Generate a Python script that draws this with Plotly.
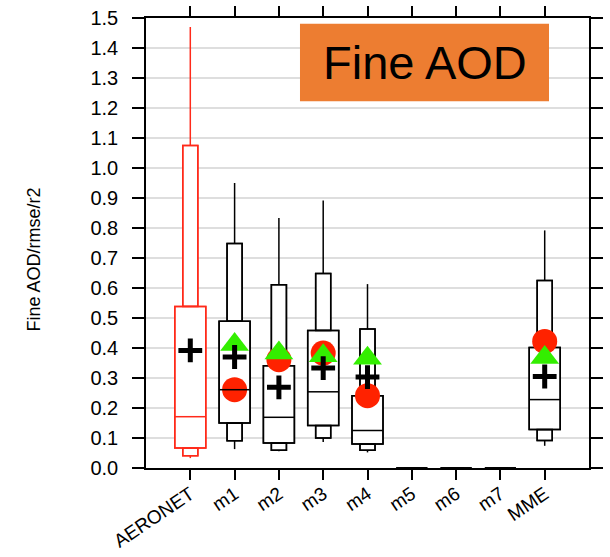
import plotly.graph_objects as go

# ---------------- data ----------------
categories = ["AERONET", "m1", "m2", "m3", "m4", "m5", "m6", "m7", "MME"]
p_max  = [1.470, 0.950, 0.833, 0.892, 0.613, 0.0, 0.0, 0.0, 0.792]
p90    = [1.075, 0.748, 0.611, 0.648, 0.463, 0.0, 0.0, 0.0, 0.625]
p75    = [0.538, 0.489, 0.341, 0.458, 0.241, 0.0, 0.0, 0.0, 0.402]
median = [0.171, 0.261, 0.169, 0.254, 0.125, 0.0, 0.0, 0.0, 0.228]
p25    = [0.067, 0.150, 0.083, 0.142, 0.080, 0.0, 0.0, 0.0, 0.128]
p10    = [0.041, 0.091, 0.059, 0.100, 0.059, 0.0, 0.0, 0.0, 0.092]
p_min  = [0.033, 0.063, 0.056, 0.087, 0.052, 0.0, 0.0, 0.0, 0.074]
mean_v = [0.392, 0.370, 0.269, 0.333, 0.303, None, None, None, 0.305]
rmse_v = [None, 0.261, 0.361, 0.383, 0.241, None, None, None, 0.422]
r2_v   = [None, 0.412, 0.383, 0.374, 0.366, None, None, None, 0.368]
box_colors = ["#ff2a1a", "black", "black", "black", "black", "black", "black", "black", "black"]
y_ticks = [round(0.1 * k, 1) for k in range(16)]

xs = list(range(len(categories)))
WIDE, NARROW = 0.70, 0.34
LW = 1.5

fig = go.Figure()

def box_bars(fill):
    traces = []
    for lo, hi, w in ((p75, p90, NARROW), (p10, p25, NARROW), (p25, p75, WIDE)):
        traces.append(go.Bar(
            x=xs, base=lo, y=[h - l for l, h in zip(lo, hi)], width=w,
            marker=dict(color=fill, line=dict(color=box_colors, width=LW)),
            hoverinfo="skip"))
    return traces

# white-filled boxes (hide grid)
for t in box_bars("white"):
    fig.add_trace(t)

# markers: rmse (red circle), r2 (green triangle)
fig.add_trace(go.Scatter(x=xs, y=rmse_v, mode="markers",
                         marker=dict(symbol="circle", size=25, color="#ff2200", line=dict(width=0)),
                         hoverinfo="skip"))
fig.add_trace(go.Scatter(x=xs, y=r2_v, mode="markers",
                         marker=dict(symbol="triangle-up", size=25, color="#33ee00", line=dict(width=0)),
                         hoverinfo="skip"))

# outlines on top of markers
for t in box_bars("rgba(0,0,0,0)"):
    fig.add_trace(t)

# whiskers and medians
for i, c in enumerate(categories):
    fig.add_trace(go.Scatter(
        x=[i, i, None, i, i], y=[p90[i], p_max[i], None, p_min[i], p10[i]],
        mode="lines", line=dict(color=box_colors[i], width=LW), hoverinfo="skip"))
    fig.add_trace(go.Scatter(
        x=[i - WIDE / 2, i + WIDE / 2], y=[median[i], median[i]],
        mode="lines", line=dict(color=box_colors[i], width=LW), hoverinfo="skip"))

# mean crosses
fig.add_trace(go.Scatter(x=xs, y=mean_v, mode="markers",
                         marker=dict(symbol="cross-thin", size=17, color="black",
                                     line=dict(width=5, color="black")),
                         hoverinfo="skip"))

fig.update_layout(
    width=610, height=557,
    margin=dict(l=146, r=21, t=18, b=89, autoexpand=False),
    plot_bgcolor="white", paper_bgcolor="white",
    showlegend=False, barmode="overlay",
    font=dict(family="Liberation Sans, Arial, sans-serif", color="black"),
)
fig.update_xaxes(
    range=[-1, 9], tickmode="array", tickvals=xs, ticktext=categories,
    ticks="outside", ticklen=10, tickwidth=LW, tickcolor="black",
    showline=True, linecolor="black", linewidth=LW, mirror="ticks",
    showgrid=False, zeroline=False, tickangle=-34, tickfont=dict(size=19),
    automargin=False, ticklabelstandoff=-4,
)
fig.update_yaxes(
    range=[0, 1.5], tickmode="array", tickvals=y_ticks,
    ticktext=[f"{v:.1f}" for v in y_ticks],
    ticks="outside", ticklen=12, tickwidth=LW, tickcolor="black",
    showline=True, linecolor="black", linewidth=LW, mirror="ticks",
    showgrid=True, gridcolor="#dedede", gridwidth=1.5, zeroline=False,
    tickfont=dict(size=20), automargin=False, ticklabelstandoff=10,
)

# y-axis title
fig.add_annotation(text="Fine AOD/rmse/r2", xref="paper", yref="paper",
                   x=-0.252, y=0.464, xanchor="center", yanchor="middle",
                   textangle=-90, showarrow=False, font=dict(size=18))

# orange title box
fig.add_shape(type="rect", xref="paper", yref="paper",
              x0=0.3476, x1=0.9097, y0=0.8149, y1=0.9873,
              fillcolor="#ed7d31", line=dict(width=0), layer="above")
fig.add_annotation(text="Fine AOD", xref="paper", yref="paper",
                   x=0.6287, y=0.901, xanchor="center", yanchor="middle",
                   showarrow=False, font=dict(size=47, color="black"))

fig.write_html("out.html")
